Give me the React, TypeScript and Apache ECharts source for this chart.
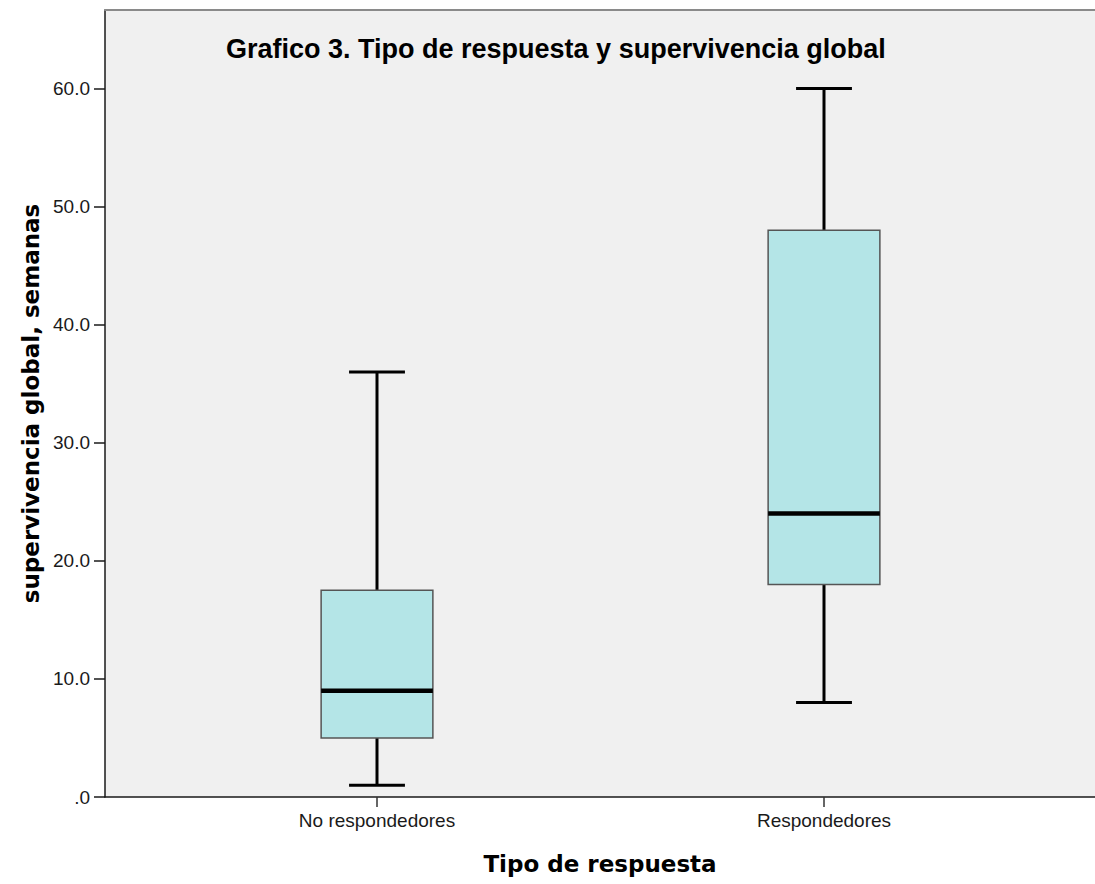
import React, { useEffect, useRef } from "react";
import * as echarts from "echarts";

// Tipo de respuesta: categorías del eje X
const categories = ["No respondedores", "Respondedores"];
// Resumen de cinco números por grupo (semanas): mínimo, Q1, mediana, Q3, máximo
const minimo = [1, 8];
const cuartil1 = [5, 18];
const mediana = [9, 24];
const cuartil3 = [17.5, 48];
const maximo = [36, 60];
// Marcas del eje Y
const yTicks = [0, 10, 20, 30, 40, 50, 60];

const AXIS_FONT = "'Liberation Sans', Arial, sans-serif";
const NAME_FONT = "'DejaVu Sans', Verdana, sans-serif";

export default function App() {
  const ref = useRef<HTMLDivElement>(null);

  useEffect(() => {
    if (!ref.current) return;
    const chart = echarts.init(ref.current, null, { renderer: "svg" });

    const boxData = categories.map((_, i) => [
      i,
      minimo[i],
      cuartil1[i],
      mediana[i],
      cuartil3[i],
      maximo[i],
    ]);

    const yMax = 66.65;

    chart.setOption({
      animation: false,
      backgroundColor: "#ffffff",
      title: {
        text: "Grafico 3. Tipo de respuesta y supervivencia global",
        left: 221,
        top: 30,
        textStyle: {
          fontFamily: AXIS_FONT,
          fontWeight: "bold",
          fontSize: 27,
          color: "#000000",
        },
      },
      grid: [
        {
          left: 105,
          right: 0,
          top: 10,
          bottom: 87,
          show: true,
          backgroundColor: "#f0f0f0",
          borderWidth: 0,
        },
        {
          left: 153.5,
          width: 894,
          top: 10,
          bottom: 87,
        },
      ],
      xAxis: [
        {
          gridIndex: 0,
          type: "value",
          min: 0,
          max: 1,
          position: "bottom",
          name: "Tipo de respuesta",
          nameLocation: "middle",
          nameGap: 55,
          nameTextStyle: {
            fontFamily: NAME_FONT,
            fontWeight: "bold",
            fontSize: 23,
            color: "#000000",
          },
          axisLine: { show: true, lineStyle: { color: "#1a1a1a", width: 1.5 } },
          axisTick: { show: false },
          axisLabel: { show: false },
          splitLine: { show: false },
        },
        {
          gridIndex: 0,
          type: "value",
          min: 0,
          max: 1,
          position: "top",
          axisLine: { show: true, lineStyle: { color: "#8a8a8a", width: 2 } },
          axisTick: { show: false },
          axisLabel: { show: false },
          splitLine: { show: false },
        },
        {
          gridIndex: 1,
          type: "category",
          data: categories,
          boundaryGap: true,
          axisLine: { show: false },
          axisTick: {
            show: true,
            alignWithLabel: true,
            length: 10,
            lineStyle: { color: "#333333", width: 1.5 },
          },
          axisLabel: {
            margin: 14,
            fontFamily: AXIS_FONT,
            fontSize: 19,
            color: "#1a1a1a",
          },
          splitLine: { show: false },
        },
      ],
      yAxis: [
        {
          gridIndex: 0,
          type: "value",
          min: 0,
          max: yMax,
          name: "supervivencia global, semanas",
          nameLocation: "middle",
          nameGap: 61,
          nameTextStyle: {
            fontFamily: NAME_FONT,
            fontWeight: "bold",
            fontSize: 23,
            color: "#000000",
          },
          axisLine: { show: true, lineStyle: { color: "#1a1a1a", width: 1.5 } },
          axisTick: {
            show: true,
            length: 11,
            customValues: yTicks,
            lineStyle: { color: "#1a1a1a", width: 1.5 },
          },
          axisLabel: {
            margin: 15,
            customValues: yTicks,
            fontFamily: AXIS_FONT,
            fontSize: 19,
            color: "#1a1a1a",
            formatter: (v: number) => (v === 0 ? ".0" : v.toFixed(1)),
          },
          splitLine: { show: false },
        },
        {
          gridIndex: 1,
          type: "value",
          min: 0,
          max: yMax,
          show: false,
          splitLine: { show: false },
        },
      ],
      series: [
        {
          type: "custom",
          xAxisIndex: 2,
          yAxisIndex: 1,
          data: boxData,
          encode: { x: 0, y: [1, 2, 3, 4, 5] },
          renderItem: (params: any, api: any) => {
            const idx = api.value(0);
            const pMin = api.coord([idx, api.value(1)]);
            const pQ1 = api.coord([idx, api.value(2)]);
            const pMed = api.coord([idx, api.value(3)]);
            const pQ3 = api.coord([idx, api.value(4)]);
            const pMax = api.coord([idx, api.value(5)]);
            const band = api.size([1, 0])[0];
            const cx = pMed[0];
            const boxW = band * 0.25;
            const capW = boxW * 0.5;
            const whisker = { stroke: "#000000", lineWidth: 3 };
            return {
              type: "group",
              children: [
                {
                  type: "line",
                  shape: { x1: cx, y1: pQ1[1], x2: cx, y2: pMin[1] },
                  style: whisker,
                },
                {
                  type: "line",
                  shape: { x1: cx - capW / 2, y1: pMin[1], x2: cx + capW / 2, y2: pMin[1] },
                  style: whisker,
                },
                {
                  type: "line",
                  shape: { x1: cx, y1: pQ3[1], x2: cx, y2: pMax[1] },
                  style: whisker,
                },
                {
                  type: "line",
                  shape: { x1: cx - capW / 2, y1: pMax[1], x2: cx + capW / 2, y2: pMax[1] },
                  style: whisker,
                },
                {
                  type: "rect",
                  shape: {
                    x: cx - boxW / 2,
                    y: pQ3[1],
                    width: boxW,
                    height: pQ1[1] - pQ3[1],
                  },
                  style: { fill: "#b4e5e7", stroke: "#555555", lineWidth: 1.5 },
                },
                {
                  type: "line",
                  shape: { x1: cx - boxW / 2, y1: pMed[1], x2: cx + boxW / 2, y2: pMed[1] },
                  style: { stroke: "#000000", lineWidth: 4.5 },
                },
              ],
            };
          },
        },
      ],
    });

    return () => chart.dispose();
  }, []);

  return (
    <div
      ref={ref}
      style={{ position: "absolute", left: 0, top: 0, width: 1095, height: 884 }}
    />
  );
}
